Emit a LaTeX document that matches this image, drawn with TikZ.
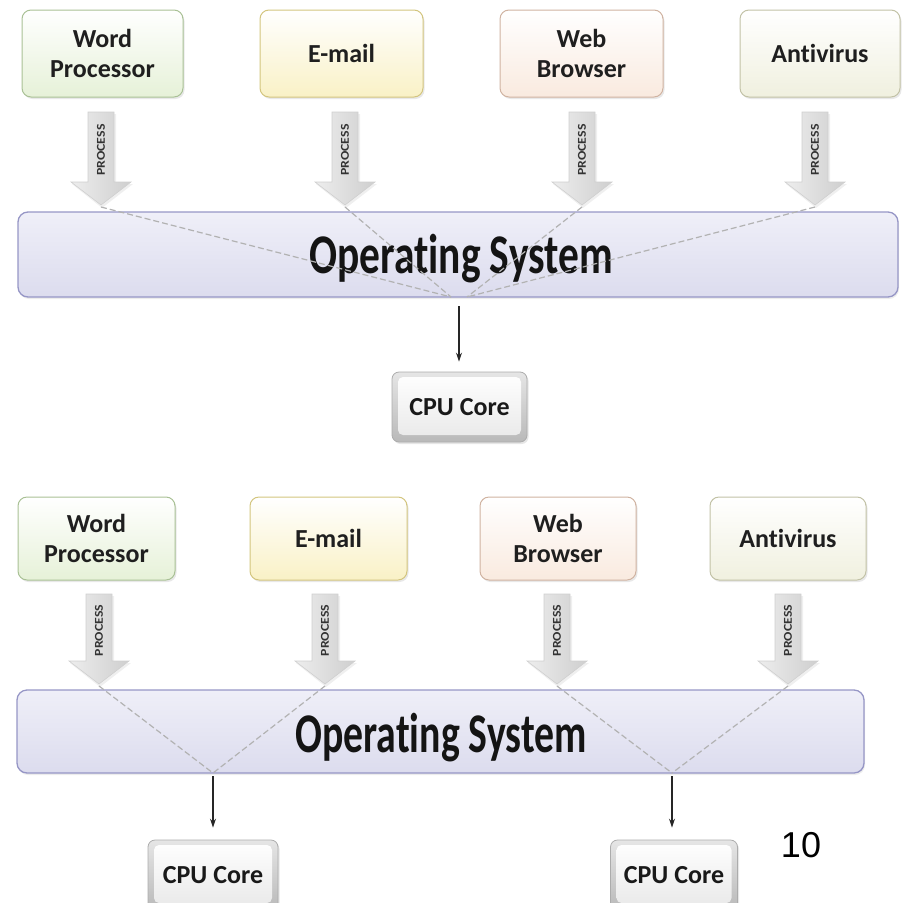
\documentclass[tikz,border=0pt]{standalone}
\usepackage{fontspec}
\setmainfont{Carlito}[Ligatures=NoCommon]
\newfontfamily\arialf{Liberation Sans}
\usetikzlibrary{arrows.meta,calc,shadows}
\definecolor{wpfill}{HTML}{E6F1D8}
\definecolor{wpdraw}{HTML}{A9C195}
\definecolor{emfill}{HTML}{F9F1C6}
\definecolor{emdraw}{HTML}{D3C57E}
\definecolor{wbfill}{HTML}{F9EADF}
\definecolor{wbdraw}{HTML}{D0B3A1}
\definecolor{avfill}{HTML}{F0F0DF}
\definecolor{avdraw}{HTML}{C2C2A6}
\definecolor{ostop}{HTML}{EFEFF8}
\definecolor{osbot}{HTML}{DCDCEE}
\definecolor{osborder}{HTML}{9696C6}
\tikzset{
  appbox/.style={rounded corners=9pt, line width=1pt, align=center, inner sep=0pt,
    font=\bfseries\fontsize{26}{30}\selectfont, text=black!88,
    drop shadow={opacity=0.18, shadow xshift=1.5pt, shadow yshift=-2pt}},
  osbox/.style={rounded corners=10pt, draw=osborder, line width=1.3pt,
    top color=ostop, bottom color=osbot, inner sep=0pt,
    drop shadow={opacity=0.15, shadow xshift=1pt, shadow yshift=-2pt}},
  ostext/.style={font=\bfseries\fontsize{56}{60}\selectfont, text=black!92, inner sep=0pt, anchor=base},
  cpubox/.style={rounded corners=7pt, draw=gray!65, line width=0.8pt,
    top color=gray!20, bottom color=gray!55, inner sep=0pt,
    font=\bfseries\fontsize{26}{30}\selectfont, text=black!90,
    drop shadow={opacity=0.2, shadow xshift=1.5pt, shadow yshift=-2pt},
    path picture={\shade[top color=white, bottom color=gray!18, rounded corners=5pt]
      ($(path picture bounding box.north west)+(6pt,-5pt)$) rectangle
      ($(path picture bounding box.south east)+(-6pt,7pt)$);}},
  flow/.style={draw=gray!60, line width=1.2pt, dash pattern=on 6pt off 3pt},
  downarrow/.style={-{Stealth[length=9pt,width=6pt]}, line width=1.4pt, draw=black!85},
  proctext/.style={rotate=90, font=\bfseries\fontsize{12}{13}\selectfont, text=black!80, inner sep=0pt}
}
\newcommand{\procarrow}[5]{%
  \fill[gray!20, opacity=0.6]
    ({#1-12},{#2+2}) -- ({#1+15},{#2+2}) -- ({#1+15},{#3+2}) -- ({#1+32},{#3+2}) -- ({#1+1},{#4+3}) -- ({#1-29},{#3+2}) -- ({#1-12},{#3+2}) -- cycle;
  \shade[draw=gray!38, line width=0.6pt, left color=gray!14, middle color=white, right color=gray!38]
    ({#1-13},#2) -- ({#1+13},#2) -- ({#1+13},#3) -- ({#1+30},#3) -- (#1,#4) -- ({#1-30},#3) -- ({#1-13},#3) -- cycle;
  \node[proctext] (#5) at (#1,{(#2+#3)/2+3}) {\scalebox{1.15}[1]{PROCESS}};
  \coordinate (#5tip) at (#1,{#4+2});
}
\begin{document}
\begin{tikzpicture}[x=1pt,y=-1pt]
\useasboundingbox (0,0) rectangle (904,902);
\clip (0,0) rectangle (904,902);

% ---------------- top diagram ----------------
\node[appbox, draw=wpdraw, top color=white, bottom color=wpfill, minimum width=161pt, minimum height=87pt] (wp1) at (102.5,53.5) {Word\\Processor};
\node[appbox, draw=emdraw, top color=white, bottom color=emfill, minimum width=163pt, minimum height=87pt] (em1) at (341.5,53.5) {E-mail};
\node[appbox, draw=wbdraw, top color=white, bottom color=wbfill, minimum width=163pt, minimum height=87pt] (wb1) at (581.5,53.5) {Web\\Browser};
\node[appbox, draw=avdraw, top color=white, bottom color=avfill, minimum width=160pt, minimum height=87pt] (av1) at (820,53.5) {Antivirus};

\procarrow{101}{112}{182}{205}{pa1}
\procarrow{345}{112}{182}{205}{pb1}
\procarrow{582}{112}{182}{205}{pc1}
\procarrow{815}{112}{182}{205}{pd1}

\node[osbox, minimum width=880pt, minimum height=85pt] (os1) at (458,254.5) {};
\node[ostext] (ost1) at (461,273) {\scalebox{0.74}[1]{Operating System}};

\coordinate (c1a) at (451,297);
\coordinate (c1b) at (467,297);
\coordinate (c1) at (459,297);
\draw[flow] (pa1tip) -- (c1a);
\draw[flow] (pb1tip) -- (c1a);
\draw[flow] (pc1tip) -- (c1b);
\draw[flow] (pd1tip) -- (c1b);

\node[cpubox, minimum width=135pt, minimum height=70pt] (cpu1) at (459.5,407) {CPU Core};
\draw[downarrow, shorten <=9pt, shorten >=10pt] (c1) -- (c1 |- cpu1.north);

% ---------------- bottom diagram ----------------
\node[appbox, draw=wpdraw, top color=white, bottom color=wpfill, minimum width=157pt, minimum height=83pt] (wp2) at (96.5,538.5) {Word\\Processor};
\node[appbox, draw=emdraw, top color=white, bottom color=emfill, minimum width=157pt, minimum height=83pt] (em2) at (328.5,538.5) {E-mail};
\node[appbox, draw=wbdraw, top color=white, bottom color=wbfill, minimum width=156pt, minimum height=83pt] (wb2) at (558,538.5) {Web\\Browser};
\node[appbox, draw=avdraw, top color=white, bottom color=avfill, minimum width=156pt, minimum height=83pt] (av2) at (788,538.5) {Antivirus};

\procarrow{99}{594}{661}{684}{pa2}
\procarrow{325}{594}{661}{684}{pb2}
\procarrow{557}{594}{661}{684}{pc2}
\procarrow{788}{594}{661}{684}{pd2}

\node[osbox, minimum width=847pt, minimum height=83pt] (os2) at (440.5,731.5) {};
\node[ostext] (ost2) at (441,752) {\scalebox{0.71}[1]{Operating System}};

\coordinate (c2) at (213,773);
\coordinate (c3) at (672,773);
\draw[flow] (pa2tip) -- (c2);
\draw[flow] (pb2tip) -- (c2);
\draw[flow] (pc2tip) -- (c3);
\draw[flow] (pd2tip) -- (c3);

\node[cpubox, minimum width=130pt, minimum height=70pt] (cpu2) at (213,875) {CPU Core};
\node[cpubox, minimum width=127pt, minimum height=70pt] (cpu3) at (674,875) {CPU Core};
\draw[downarrow, shorten <=3pt, shorten >=12pt] (c2) -- (c2 |- cpu2.north);
\draw[downarrow, shorten <=3pt, shorten >=12pt] (c3) -- (c3 |- cpu3.north);

\node[font=\arialf\fontsize{36}{40}\selectfont, anchor=base, inner sep=0pt] (pg) at (801,857) {10};
\end{tikzpicture}
\end{document}
